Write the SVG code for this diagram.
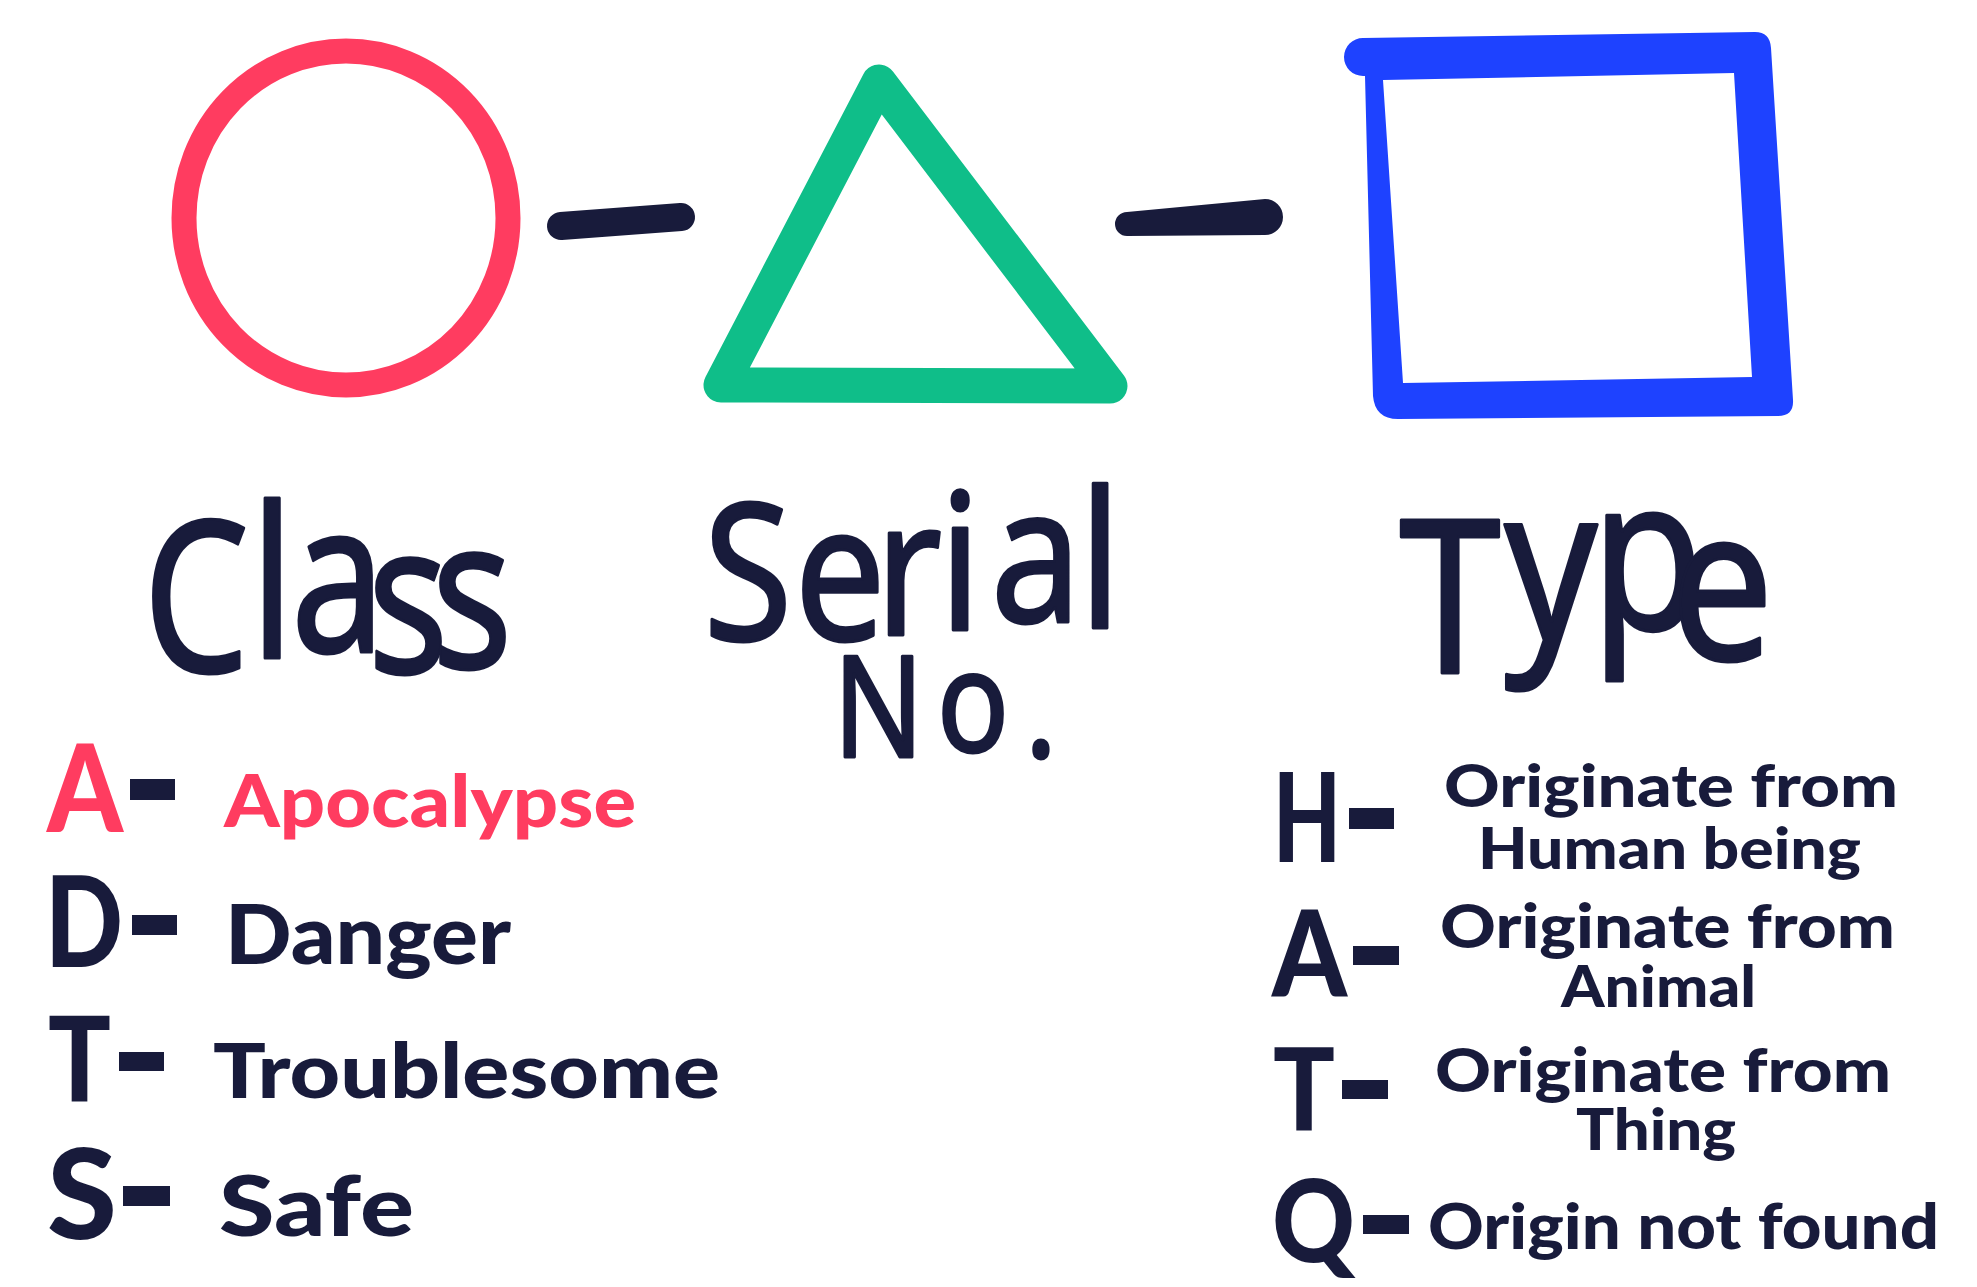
<svg xmlns="http://www.w3.org/2000/svg" width="1977" height="1287" viewBox="0 0 1977 1287">
<defs>
<style>
.hand{font-family:"Noto Sans","DejaVu Sans",sans-serif;font-weight:400;fill:#181b3b;stroke:#181b3b;stroke-width:3;stroke-linejoin:round}
.big{font-family:"Lato","Noto Sans",sans-serif;font-weight:900;fill:#181b3b}
.desc{font-family:"Lato","Noto Sans",sans-serif;font-weight:900;fill:#181b3b}
.pink{fill:#ff3c60}
.dash{fill:#181b3b}
.conn{stroke:#181b3b;stroke-linecap:round;fill:none}
</style>
</defs>
<rect width="1977" height="1287" fill="#ffffff"/>

<g id="node-class">
<ellipse cx="346" cy="218" rx="162" ry="167" fill="none" stroke="#ff3c60" stroke-width="25"/>
<text id="label-class" class="hand" font-size="210" transform="scale(0.8,1)" x="178.75 313.1 363.75 459.7 539.7" y="672 658 652 673 668">Class</text>
</g>

<g id="node-serial">
<path d="M879,82 L721,385 L1110,386 Z" fill="none" stroke="#0fbe89" stroke-width="35" stroke-linejoin="round"/>
<text id="label-serial" class="hand" font-size="190" transform="scale(0.85,1)" x="827.8 934.6 1029.6 1104.9 1165.5 1269.6" y="640 640 635 630 622 628">Serial</text>
<text id="label-serial-no" class="hand" font-size="140" transform="scale(0.85,1)" x="980.3 1102.5 1205.9" y="757 752 757">No.</text>
</g>

<g id="node-type">
<path fill="#1e42ff" fill-rule="evenodd" d="M1363,38 L1755,32 Q1770,32 1771,48 L1793,400 Q1794,416 1778,416 L1398,419 Q1375,419 1373,396 L1365,76 L1363,76 A19,19 0 0 1 1363,38 Z M1383,80 L1734,73 L1752,377 L1403,383 Z"/>
<text id="label-type" class="hand" font-size="215" transform="scale(0.85,1)" x="1646.1 1769.8 1871.8 1965.3" y="673 640 630 660">Type</text>
</g>

<g id="connectors">
<line class="conn" x1="561" y1="226" x2="681" y2="217" stroke-width="28"/>
<path fill="#181b3b" d="M1127,212 L1265,199 A18,18 0 0 1 1265,235 L1127,236 A12,12 0 0 1 1127,212 Z"/>
</g>

<g id="legend-class">
<g id="class-a">
<text class="big pink" x="47" y="832" font-size="122" textLength="76" lengthAdjust="spacingAndGlyphs">A</text>
<rect class="dash" x="130" y="779" width="45" height="21"/>
<text class="desc pink" x="224" y="827" font-size="73" textLength="412" lengthAdjust="spacingAndGlyphs">Apocalypse</text>
</g>
<g id="class-d">
<text class="big" x="45" y="967" font-size="125" textLength="78" lengthAdjust="spacingAndGlyphs">D</text>
<rect class="dash" x="132" y="915" width="45" height="20"/>
<text class="desc" x="225" y="964" font-size="81" textLength="286" lengthAdjust="spacingAndGlyphs">Danger</text>
</g>
<g id="class-t">
<text class="big" x="48" y="1102" font-size="119" textLength="63" lengthAdjust="spacingAndGlyphs">T</text>
<rect class="dash" x="119" y="1052" width="45" height="19"/>
<text class="desc" x="213" y="1098" font-size="77" textLength="507" lengthAdjust="spacingAndGlyphs">Troublesome</text>
</g>
<g id="class-s">
<text class="big" x="47" y="1239" font-size="126" textLength="70" lengthAdjust="spacingAndGlyphs">S</text>
<rect class="dash" x="123" y="1186" width="47" height="20"/>
<text class="desc" x="219" y="1236" font-size="83" textLength="195" lengthAdjust="spacingAndGlyphs">Safe</text>
</g>
</g>

<g id="legend-type">
<g id="type-h">
<text class="big" x="1273" y="862" font-size="123" textLength="68" lengthAdjust="spacingAndGlyphs">H</text>
<rect class="dash" x="1349" y="808" width="45" height="21"/>
<text class="desc" x="1444" y="807" font-size="59" textLength="454" lengthAdjust="spacingAndGlyphs">Originate from</text>
<text class="desc" x="1478" y="869" font-size="58" textLength="383" lengthAdjust="spacingAndGlyphs">Human being</text>
</g>
<g id="type-a">
<text class="big" x="1272" y="997" font-size="120" textLength="75" lengthAdjust="spacingAndGlyphs">A</text>
<rect class="dash" x="1353" y="946" width="46" height="19"/>
<text class="desc" x="1440" y="948" font-size="60" textLength="455" lengthAdjust="spacingAndGlyphs">Originate from</text>
<text class="desc" x="1561" y="1007" font-size="58" textLength="195" lengthAdjust="spacingAndGlyphs">Animal</text>
</g>
<g id="type-t">
<text class="big" x="1273" y="1130" font-size="115" textLength="62" lengthAdjust="spacingAndGlyphs">T</text>
<rect class="dash" x="1342" y="1080" width="46" height="19"/>
<text class="desc" x="1435" y="1092" font-size="60" textLength="456" lengthAdjust="spacingAndGlyphs">Originate from</text>
<text class="desc" x="1576" y="1150" font-size="58" textLength="160" lengthAdjust="spacingAndGlyphs">Thing</text>
</g>
<g id="type-q">
<text class="big" x="1272" y="1262" font-size="115" textLength="83" lengthAdjust="spacingAndGlyphs">Q</text>
<rect class="dash" x="1363" y="1215" width="46" height="19"/>
<text class="desc" x="1428" y="1249" font-size="62" textLength="511" lengthAdjust="spacingAndGlyphs">Origin not found</text>
</g>
</g>
</svg>
